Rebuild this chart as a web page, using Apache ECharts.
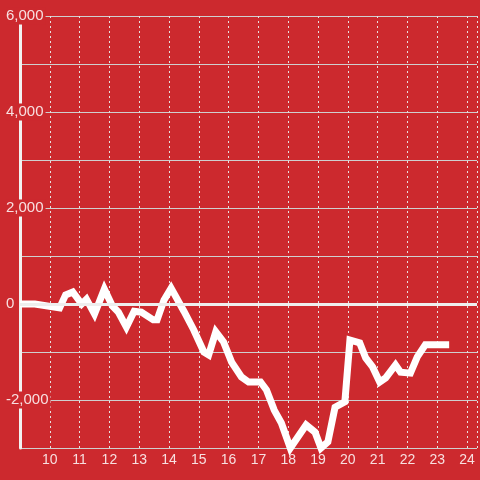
<!DOCTYPE html>
<html>
<head>
<meta charset="utf-8">
<script src="https://cdn.jsdelivr.net/npm/echarts@6/dist/echarts.min.js"></script>
<style>
html,body{margin:0;padding:0;background:#cc292e;}
#chart{width:480px;height:480px;}
</style>
</head>
<body>
<div id="chart"></div>
<script>
const hours = [9.0, 9.5, 10.33, 10.53, 10.77, 11.07, 11.23, 11.5, 11.83, 12.1,
  12.3, 12.57, 12.83, 13.07, 13.47, 13.6, 13.83, 14.07, 14.5, 14.83,
  15.17, 15.33, 15.57, 15.83, 16.1, 16.43, 16.67, 17.07, 17.27, 17.53,
  17.77, 18.07, 18.6, 18.9, 19.1, 19.33, 19.57, 19.9, 20.07, 20.4,
  20.6, 20.83, 21.07, 21.27, 21.6, 21.77, 22.1, 22.33, 22.6, 23.4];
const values = [0, 0, -80, 190, 250, 0, 100, -210, 310, -40,
  -170, -480, -150, -170, -330, -330, 80, 330, -150, -540,
  -1000, -1060, -580, -790, -1210, -1520, -1625, -1625, -1790, -2210,
  -2480, -3000, -2520, -2670, -3000, -2875, -2150, -2040, -750, -810,
  -1125, -1310, -1625, -1540, -1270, -1420, -1440, -1100, -850, -850];
const yTickLabels = [-2000, 0, 2000, 4000, 6000];
const xTickLabels = [10, 11, 12, 13, 14, 15, 16, 17, 18, 19, 20, 21, 22, 23, 24];

const bg = '#cc292e';
const labelColor = 'rgba(255,255,255,0.85)';
const chart = echarts.init(document.getElementById('chart'));
chart.setOption({
  backgroundColor: bg,
  animation: false,
  grid: { left: 20, right: 0, top: 16, bottom: 32 },
  xAxis: {
    type: 'value',
    min: 9,
    max: 24.334,
    interval: 1,
    axisLine: { show: false },
    axisTick: { show: false },
    axisLabel: {
      color: labelColor,
      fontFamily: 'Liberation Sans',
      fontSize: 14,
      margin: 5,
      showMinLabel: true,
      showMaxLabel: true,
      formatter: function (v) {
        return xTickLabels.indexOf(Math.round(v * 1000) / 1000) >= 0 ? String(v) : '';
      }
    },
    splitLine: { show: true, lineStyle: { color: '#e8e0e0', width: 1, type: [2, 3] } }
  },
  yAxis: {
    type: 'value',
    min: -3000,
    max: 6000,
    interval: 1000,
    axisLine: { show: true, lineStyle: { color: '#f2f2f2', width: 3 } },
    axisTick: { show: false },
    axisLabel: {
      color: labelColor,
      fontFamily: 'Liberation Sans',
      fontSize: 15,
      align: 'left',
      margin: 14,
      backgroundColor: bg,
      padding: [1, 2, 1, 0],
      lineHeight: 15,
      formatter: function (v) {
        return yTickLabels.indexOf(v) >= 0 ? v.toLocaleString('en-US') : '';
      }
    },
    splitLine: { show: true, lineStyle: { color: '#cfcfcf', width: 1 } }
  },
  series: [{
    type: 'line',
    data: hours.map((h, i) => [h, values[i]]),
    showSymbol: false,
    symbol: 'none',
    clip: false,
    lineStyle: { color: '#ffffff', width: 7, join: 'miter' },
    markLine: {
      silent: true,
      symbol: 'none',
      label: { show: false },
      lineStyle: { color: '#eeeeee', width: 3, type: 'solid' },
      data: [{ yAxis: 0 }]
    },
    z: 3
  }]
});
</script>
</body>
</html>
